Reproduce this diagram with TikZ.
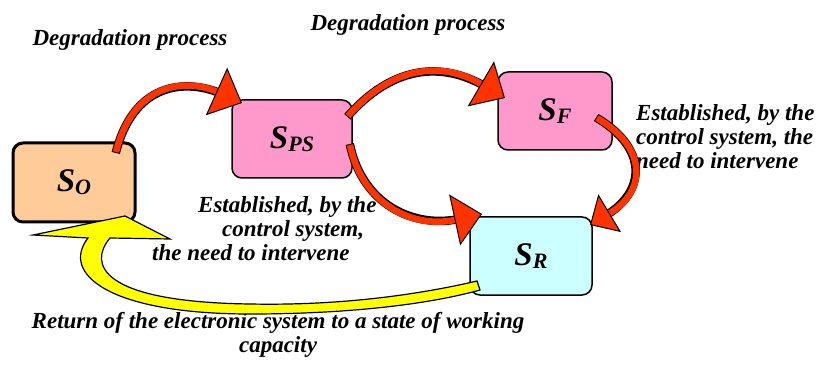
\documentclass[tikz,border=0pt]{standalone}
\usepackage{fontspec}
\setmainfont{Liberation Serif}
\usetikzlibrary{arrows.meta}
\definecolor{arrowred}{HTML}{FF3300}
\definecolor{peachbox}{HTML}{FFCC99}
\definecolor{pinkbox}{HTML}{FF99CC}
\definecolor{cyanbox}{HTML}{CCFFFF}
\definecolor{yellowarrow}{HTML}{FFFF00}
\newcommand{\statelabel}[1]{{\fontsize{33}{33}\selectfont\bfseries\itshape S\raisebox{-3pt}{\fontsize{22}{22}\selectfont #1}}}
\begin{document}
\begin{tikzpicture}[x=1pt,y=1pt,
  statebox/.style={draw=black, line width=1.5pt, rounded corners=10pt, inner sep=0pt},
  caption/.style={font=\fontsize{23}{24}\selectfont\bfseries\itshape, inner sep=0pt},
  redarrow/.style={draw=arrowred, line width=6.5pt,
    -{Triangle[length=28pt,width=52pt,line width=1pt,color=black,fill=arrowred]},
    preaction={draw=black, line width=8.5pt, -, shorten >=22pt, shorten <=-1pt}},
  redarrowsmall/.style={draw=arrowred, line width=6.5pt,
    -{Triangle[length=23pt,width=44pt,line width=1pt,color=black,fill=arrowred]},
    preaction={draw=black, line width=8.5pt, -, shorten >=18pt, shorten <=-1pt}},
]
\useasboundingbox (0,0) rectangle (818,364);

% state boxes
\node[statebox, fill=peachbox, line width=3pt, minimum width=122pt, minimum height=79pt] (so) at (74,181.5) {\statelabel{O}};
\node[statebox, fill=pinkbox, minimum width=120pt, minimum height=78pt] (sps) at (292,225) {\statelabel{PS}};
\node[statebox, fill=pinkbox, minimum width=114pt, minimum height=78pt] (sf) at (555,253) {\statelabel{F}};
\node[statebox, fill=cyanbox, minimum width=122pt, minimum height=78pt] (sr) at (531,108) {\statelabel{R}};

% texts
\node[caption, anchor=base] (dp1) at (130,318) {Degradation process};
\node[caption, anchor=base] (dp2) at (408,333) {Degradation process};
\node[caption, anchor=north west, align=left] (est1) at (636,260) {Established, by the\\control system, the\\need to intervene};
\node[caption, anchor=north west, align=left] (est2) at (152,168) {\hspace*{46pt}Established, by the\\\hspace*{70pt}control system,\\the need to intervene};
\node[caption, anchor=north, align=center] (ret) at (278,52) {Return of the electronic system to a state of working\\capacity};

% yellow return arrow
\draw[black, line width=1.2pt, fill=yellowarrow, line join=miter]
  (125,148) -- (170,125) -- (110,126)
  .. controls (88,100) and (100,62) .. (250,60)
  .. controls (350,58) and (430,72) .. (477,83)
  -- (480,74)
  .. controls (430,60) and (350,50) .. (250,50)
  .. controls (110,50) and (60,90) .. (88,126)
  -- (33,129) -- cycle;

% red arrows
\coordinate (a1s) at (116,212); \coordinate (a1e) at (242,261);
\coordinate (a2s) at (348,248); \coordinate (a2e) at (505,266);
\coordinate (a3s) at (350,219); \coordinate (a3e) at (482,150);
\coordinate (a4s) at (597,246); \coordinate (a4e) at (590,139);
\draw[redarrow] (a1s) .. controls (135,287) and (192,283.5) .. (a1e);
\draw[redarrow] (a2s) .. controls (391,297) and (440,304) .. (a2e);
\draw[redarrow] (a3s) .. controls (362,160) and (413,135) .. (a3e);
\draw[redarrowsmall] (a4s) .. controls (648.6,215.4) and (645.8,172.5) .. (a4e);
\end{tikzpicture}
\end{document}
